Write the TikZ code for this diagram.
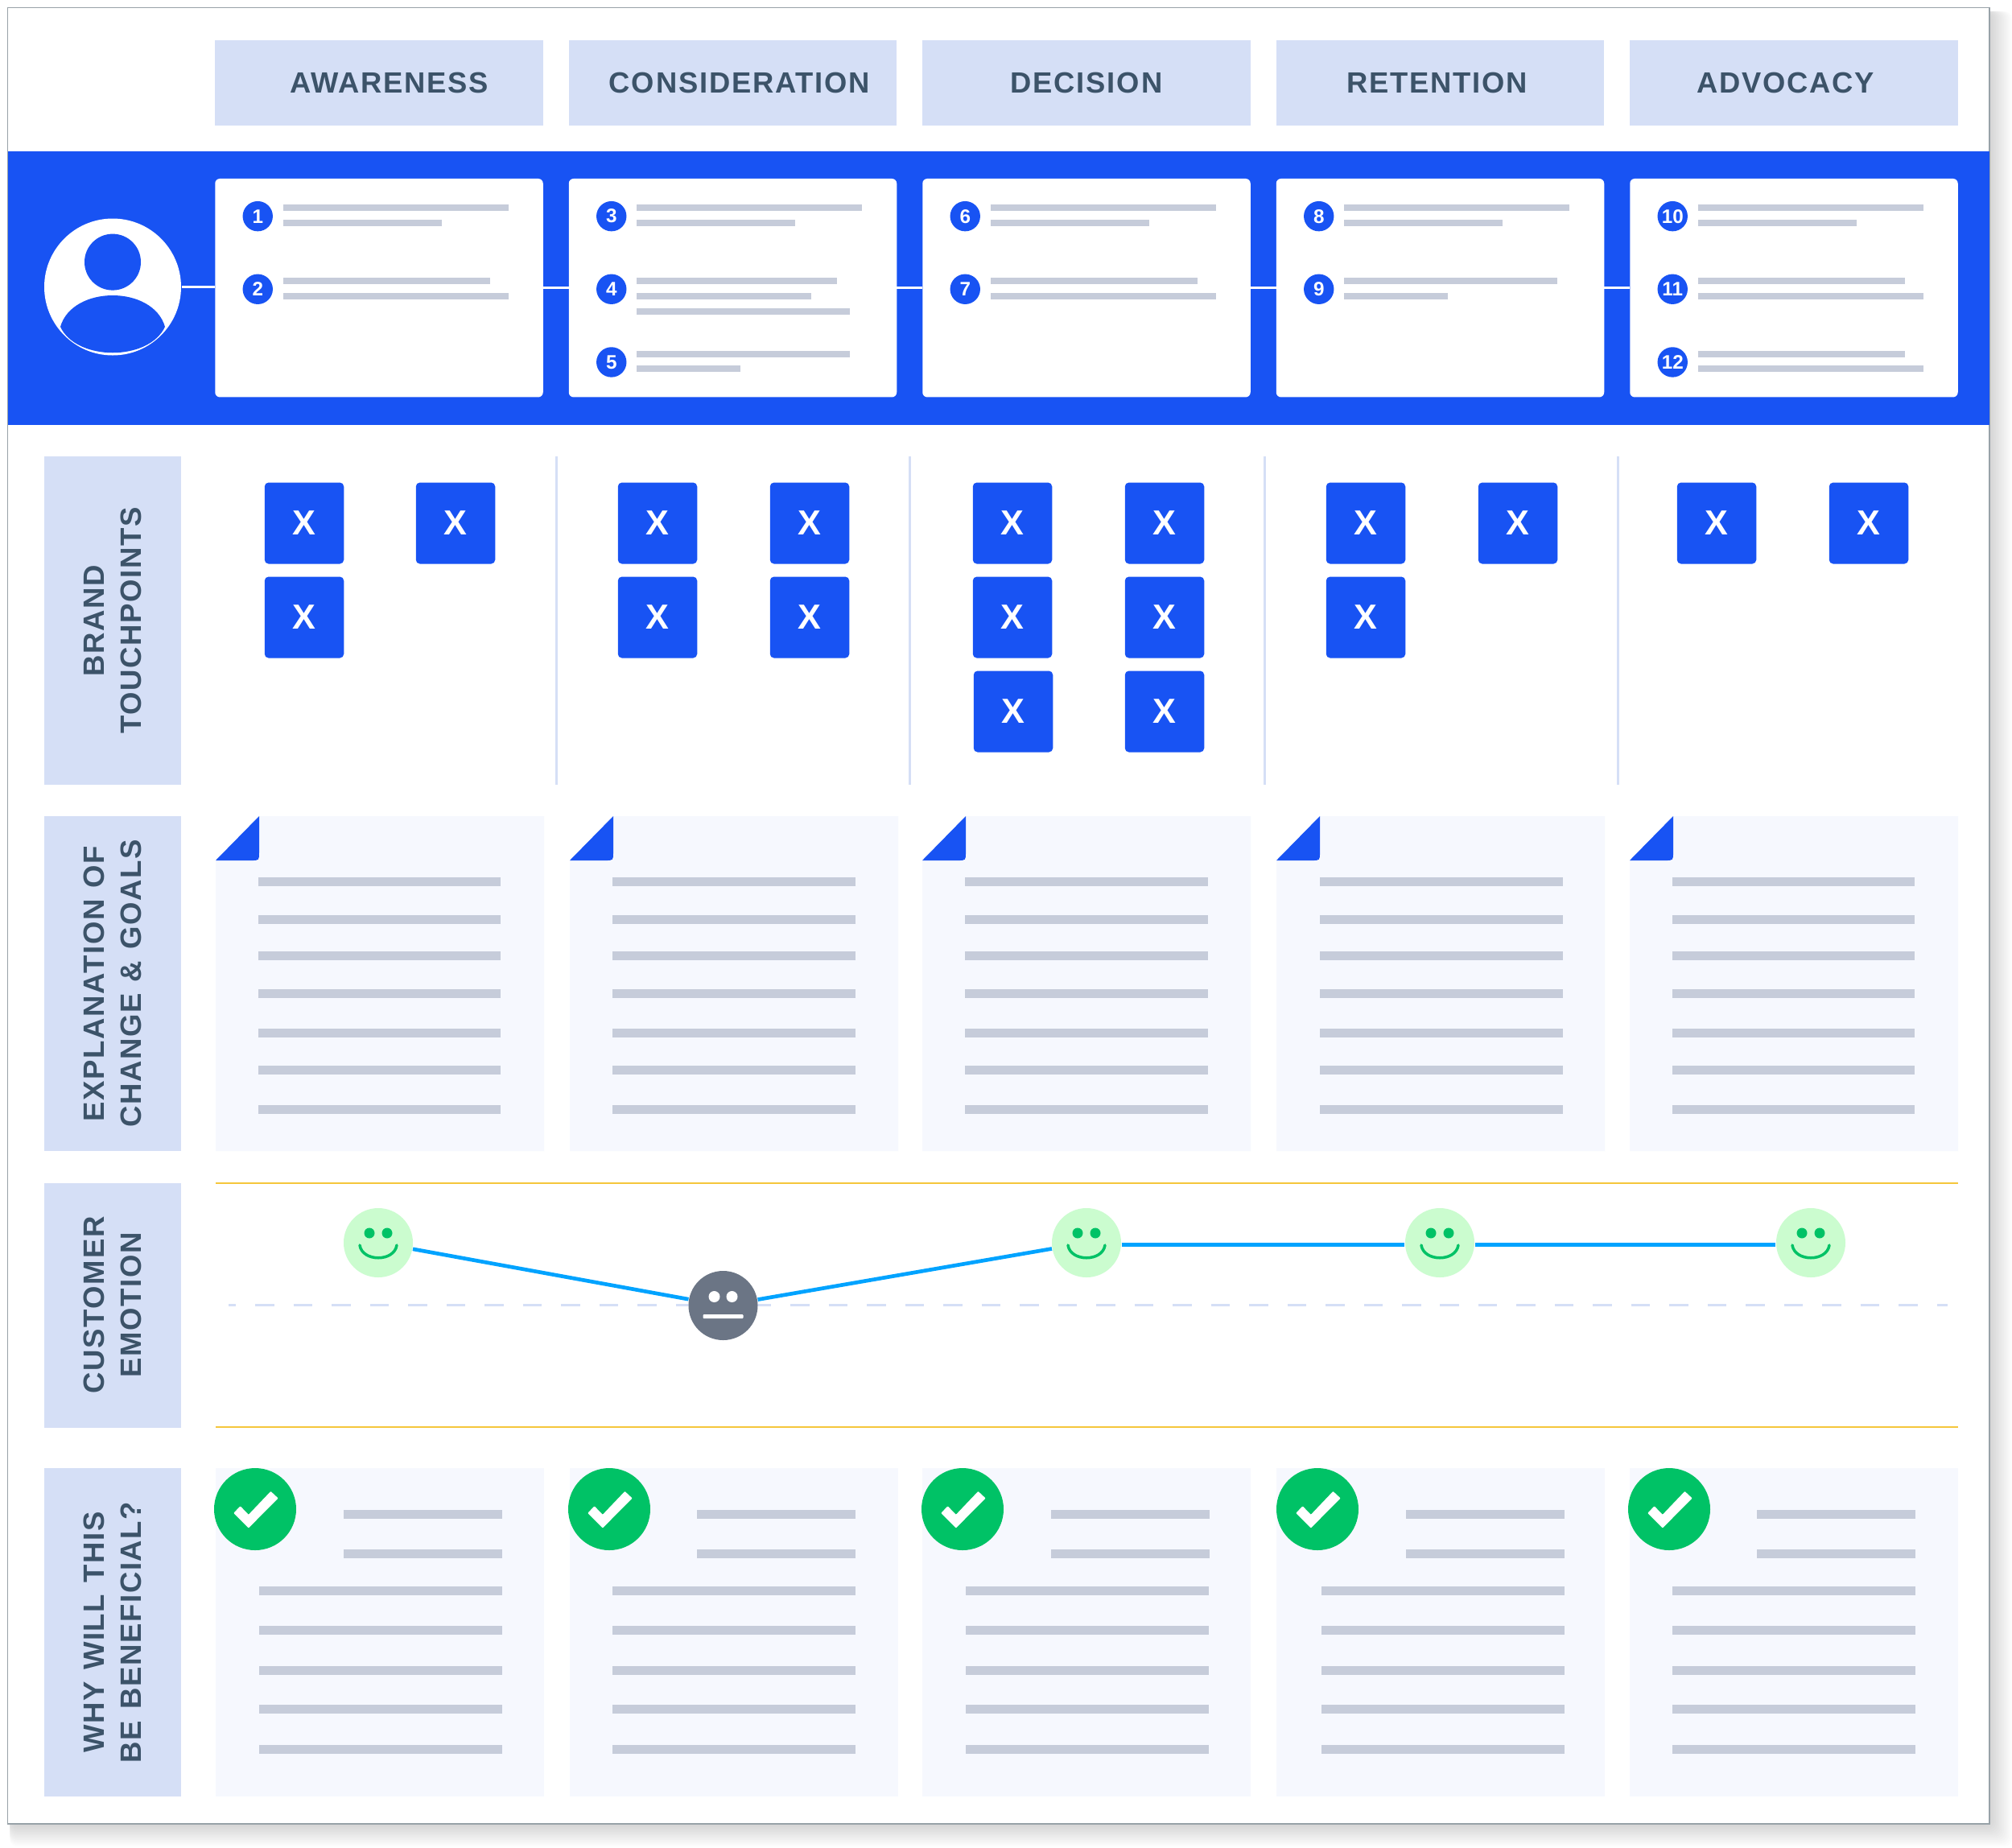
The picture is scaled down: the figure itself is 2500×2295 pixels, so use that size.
\documentclass[tikz,border=0pt]{standalone}
\usepackage{fontspec}
\usepackage{xcolor}
\usepackage{tikz}
\usetikzlibrary{positioning,calc}
\setmainfont{Liberation Sans}
\newfontfamily\headfont[LetterSpace=5]{Liberation Sans Bold}
\newfontfamily\sidefont[LetterSpace=4.5,WordSpace=1.2]{Liberation Sans Bold}
\definecolor{brand}{HTML}{1853F3}
\definecolor{tint}{HTML}{D5DFF6}
\definecolor{ink}{HTML}{3C5369}
\definecolor{sheet}{HTML}{F6F8FE}
\definecolor{barc}{HTML}{C6CCDA}
\definecolor{frameline}{HTML}{98A2A8}
\definecolor{gold}{HTML}{F5C63C}
\definecolor{sky}{HTML}{00A3FF}
\definecolor{mint}{HTML}{CBFCCF}
\definecolor{leaf}{HTML}{00C266}
\definecolor{slate}{HTML}{6B7585}

\begin{document}
\begin{tikzpicture}[x=0.1mm, y=-0.1mm,
  headbox/.style={fill=tint, minimum width=40.75mm, minimum height=10.6mm, inner sep=0pt, outer sep=0pt},
  headtext/.style={font=\headfont\fontsize{10.35}{13}\selectfont, text=ink, inner sep=0pt},
  card/.style={fill=white, rounded corners=0.6mm, minimum width=40.75mm, minimum height=27.15mm, inner sep=0pt, outer sep=0pt},
  link/.style={draw=white, line width=0.28mm},
  num/.style={circle, fill=brand, text=white, minimum size=3.74mm, inner sep=0pt, font=\bfseries\fontsize{6.9}{8}\selectfont},
  bar/.style={fill=barc},
  touch/.style={fill=brand, text=white, rounded corners=0.5mm, minimum width=9.85mm, minimum height=10.1mm, inner sep=0pt, font=\bfseries\fontsize{12.3}{14}\selectfont},
  sep/.style={draw=tint, line width=0.3mm},
  sidelabel/.style={fill=tint, text=ink, rotate=90, minimum height=17mm, inner sep=0pt, align=center, font=\sidefont\fontsize{10.4}{13}\selectfont, execute at begin node={\rule{0pt}{8.4pt}}},
  face/.style={circle, fill=mint, minimum size=8.6mm, inner sep=0pt},
  mood/.style={draw=sky, line width=0.47mm},
  tick/.style={circle, fill=leaf, minimum size=10.2mm, inner sep=0pt}]
\useasboundingbox (0,0) rectangle (2500,2295);
\fill[white] (0,0) rectangle (2500,2295);
% soft shadow and frame
\foreach \s in {1,...,14} \fill[black, opacity=0.012, rounded corners=1mm] (12,14) rectangle (2472+2*\s,2266+2*\s);
\filldraw[fill=white, draw=frameline, line width=0.15mm] (9.5,9.5) rectangle (2472,2266);

% stages
\node[headbox] (awareness) at (471,103) {};
\node[headbox, right=3.2mm of awareness] (consideration) {};
\node[headbox, right=3.2mm of consideration] (decision) {};
\node[headbox, right=3.2mm of decision] (retention) {};
\node[headbox, right=3.2mm of retention] (advocacy) {};
\node[headtext] at ([xshift=1.27mm]awareness.center) {AWARENESS};
\node[headtext] at ([xshift=0.85mm]consideration.center) {CONSIDERATION};
\node[headtext] at (decision.center) {DECISION};
\node[headtext] at ([xshift=-0.4mm]retention.center) {RETENTION};
\node[headtext] at ([xshift=-1.05mm]advocacy.center) {ADVOCACY};

% journey band
\fill[brand] (9.5,187.5) rectangle (2472,528);
\node[card] (card1) at (471,357.7) {};
\node[card, right=3.2mm of card1] (card2) {};
\node[card, right=3.2mm of card2] (card3) {};
\node[card, right=3.2mm of card3] (card4) {};
\node[card, right=3.2mm of card4] (card5) {};
\node[circle, fill=white, minimum size=17mm, inner sep=0pt] (avatar) at (140,356.5) {};
\fill[brand] (140,325.6) circle[radius=35];
\fill[brand] (75,406) .. controls (90,354) and (190,354) .. (205,406) .. controls (185,449) and (95,449) .. (75,406) -- cycle;
\draw[link] (avatar.east) -- (avatar.east -| card1.west);
\draw[link] (card1) -- (card2);
\draw[link] (card2) -- (card3);
\draw[link] (card3) -- (card4);
\draw[link] (card4) -- (card5);
\foreach \i/\c/\yy in {1/card1/46.7, 2/card1/137.3, 3/card2/46.7, 4/card2/137.3, 5/card2/228, 6/card3/46.7, 7/card3/137.3, 8/card4/46.7, 9/card4/137.3, 10/card5/46.7, 11/card5/137.3, 12/card5/228}
  \node[num] (n\i) at ([shift={(53,\yy)}]\c.north west) {\i};
\foreach \n/\yy/\w in {n1/-14.4/280, n1/4.4/197, n2/-14.4/257, n2/4.4/280,
  n3/-14.4/280, n3/4.4/197, n4/-14.4/249, n4/4.4/217, n4/23.4/265, n5/-14.4/265, n5/4.4/129,
  n6/-14.4/280, n6/4.4/197, n7/-14.4/257, n7/4.4/280,
  n8/-14.4/280, n8/4.4/197, n9/-14.4/265, n9/4.4/129,
  n10/-14.4/280, n10/4.4/197, n11/-14.4/257, n11/4.4/280, n12/-14.4/257, n12/4.4/280}
  \fill[bar] ($(\n)+(31.3,\yy)$) rectangle ++(\w,8);

% row labels
\node[sidelabel, minimum width=40.8mm] (touchlabel) at (140,771) {BRAND\\TOUCHPOINTS};
\node[sidelabel, minimum width=41.6mm] (changelabel) at (140,1222) {EXPLANATION OF\\CHANGE \& GOALS};
\node[sidelabel, minimum width=30.4mm] (emotionlabel) at (140,1621.5) {CUSTOMER\\EMOTION};
\node[sidelabel, minimum width=40.8mm] (whylabel) at (140,2028) {WHY WILL THIS\\BE BENEFICIAL?};

% touchpoints
\foreach \x in {691,1130.5,1571,2010.6} \draw[sep] (\x,567) -- (\x,975);
\foreach \x/\yy in {378/650, 566/650, 378/767,
  817/650, 1006/650, 817/767, 1006/767,
  1258/650, 1447/650, 1258/767, 1447/767, 1259/884, 1447/884,
  1697/650, 1886/650, 1697/767,
  2133/650, 2322/650}
  \node[touch] at (\x,\yy) {X};

% explanation sheets
\foreach \sx/\tx/\tw in {268/321/301, 708/761/302, 1146/1199/302, 1586/1640/302, 2025/2078/301} {
  \fill[sheet] (\sx+54,1014) -- (\sx+408,1014) -- (\sx+408,1430) -- (\sx,1430) -- (\sx,1069) -- cycle;
  \fill[brand] (\sx+54,1014) -- (\sx+54,1059) .. controls (\sx+54,1069) .. (\sx+44,1069) -- (\sx,1069) -- cycle;
  \foreach \yy in {1095,1142,1187.5,1234.5,1283,1329.5,1378} \fill[bar] (\tx,\yy-5.5) rectangle ++(\tw,11);
}

% emotion curve
\draw[draw=gold, line width=0.18mm] (268,1470) -- (2433,1470);
\draw[draw=gold, line width=0.18mm] (268,1773) -- (2433,1773);
\draw[draw=tint, line width=0.33mm, dash pattern=on 2.35mm off 2.4mm, dash phase=1.45mm] (284,1621.5) -- (2420,1621.5);
\foreach \f/\x in {smile1/470, smile2/1350, smile3/1789, smile4/2250} {
  \node[face] (\f) at (\x,1544) {};
  \begin{scope}[shift={(\x,1544)}]
    \fill[leaf] (-11,-12) circle[radius=6.5];
    \fill[leaf] (11,-12) circle[radius=6.5];
    \draw[leaf, line width=0.35mm, line cap=round] (-23,3) .. controls (-20,24) and (20,24) .. (23,3);
  \end{scope}
}
\node[face, fill=slate] (neutral) at (898.5,1622) {};
\begin{scope}[shift={(898.5,1622)}]
  \fill[white] (-11,-11) circle[radius=7];
  \fill[white] (11,-11) circle[radius=7];
  \fill[white, rounded corners=0.1mm] (-25,11) rectangle (25,16);
\end{scope}
\draw[mood] (smile1) -- (neutral);
\draw[mood] (neutral) -- (smile2);
\draw[mood] ([yshift=-0.27mm]smile2.east) -- ([yshift=-0.27mm]smile3.west);
\draw[mood] ([yshift=-0.27mm]smile3.east) -- ([yshift=-0.27mm]smile4.west);

% benefit sheets
\foreach \sx/\cx/\ax/\bx in {268/317/427/322, 708/757/866/761, 1146/1196/1306/1200, 1586/1637/1747/1642, 2025/2074/2183/2078} {
  \fill[sheet] (\sx,1824) rectangle ++(408,408);
  \foreach \yy in {1881,1930} \fill[bar] (\ax,\yy-5.5) rectangle ++(197,11);
  \foreach \yy in {1976.5,2025,2075,2123,2173} \fill[bar] (\bx,\yy-5.5) rectangle ++(302,11);
  \node[tick] at (\cx,1875) {};
  \begin{scope}[shift={(\cx,1875)}]
    \fill[white, rounded corners=0.08mm] (-26.7,4.8) -- (-18.4,-3.8) -- (-8.2,6.8) -- (19.4,-22.2) -- (28.6,-13.6) -- (-8.2,23.5) -- cycle;
  \end{scope}
}
\end{tikzpicture}
\end{document}
